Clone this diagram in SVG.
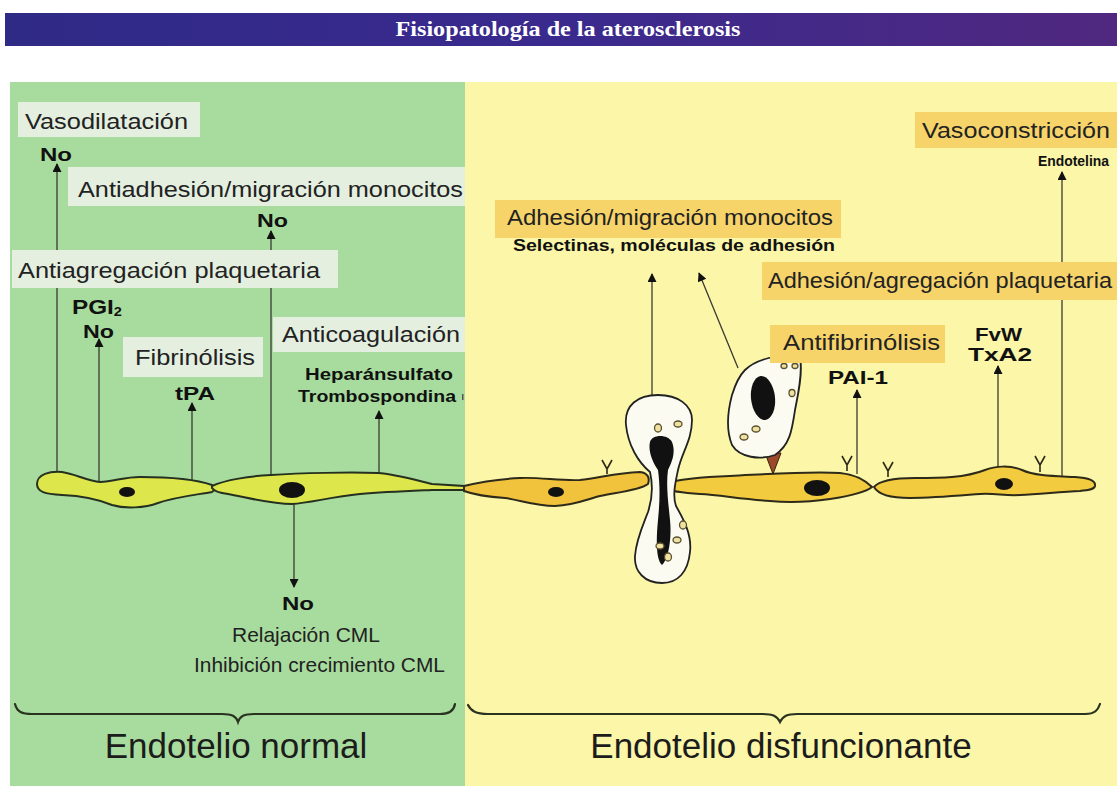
<svg xmlns="http://www.w3.org/2000/svg" width="1117" height="786" viewBox="0 0 1117 786">
  <defs>
    <linearGradient id="bar" x1="0" y1="0" x2="1" y2="0">
      <stop offset="0" stop-color="#2f2a86"/>
      <stop offset="0.5" stop-color="#3a2a8e"/>
      <stop offset="1" stop-color="#50287f"/>
    </linearGradient>
    <marker id="ah" viewBox="0 0 10 10" refX="9" refY="5" markerWidth="11" markerHeight="9" markerUnits="userSpaceOnUse" orient="auto">
      <path d="M0,0 L10,5 L0,10 Z" fill="#111"/>
    </marker>
  </defs>
  <style>
    .lbl { font-family: "Liberation Sans", Arial, sans-serif; font-size: 22px; fill: #222; }
    .big { font-family: "Liberation Sans", Arial, sans-serif; font-size: 35px; fill: #1c1c1c; }
    .bold { font-family: "Liberation Sans", Arial, sans-serif; font-size: 19px; font-weight: bold; fill: #111; }
    .sm { font-family: "Liberation Sans", Arial, sans-serif; font-size: 16px; font-weight: bold; fill: #111; }
    .mid { font-family: "Liberation Sans", Arial, sans-serif; font-size: 21px; fill: #222; }
    .boxg { fill: #e4efe0; }
    .boxy { fill: #f6d46a; }
    .cellg { fill: #dde64a; stroke: #263020; stroke-width: 2; }
    .celly { fill: #f3cb3e; stroke: #2e2a1a; stroke-width: 2; }
    .nuc { fill: #111; }
    .ln { stroke: #3a3a30; stroke-width: 1.3; fill: none; }
    .brace { stroke: #2a3320; stroke-width: 2.2; fill: none; stroke-linecap: round; }
    .gran { fill: #efe2a0; stroke: #5a5030; stroke-width: 1.3; }
    .mono { fill: #fbfbf2; stroke: #222; stroke-width: 1.8; }
    .rec { stroke: #2e2a1a; stroke-width: 1.6; fill: none; }
  </style>

  <rect width="1117" height="786" fill="#ffffff"/>

  <!-- title bar -->
  <g id="title">
    <rect x="5" y="13" width="1112" height="33" fill="url(#bar)"/>
    <text x="568" y="36" text-anchor="middle" font-family="Liberation Serif, serif" font-size="22" font-weight="bold" fill="#ffffff" textLength="345" lengthAdjust="spacingAndGlyphs">Fisiopatología de la aterosclerosis</text>
  </g>

  <!-- panels -->
  <rect id="panel-normal" x="10" y="82" width="455" height="704" fill="#a8dc9e"/>
  <rect id="panel-dys" x="465" y="82" width="652" height="704" fill="#fbf6a8"/>

  <!-- connectors -->
  <g id="connectors">
    <line class="ln" x1="57" y1="472" x2="57" y2="164" marker-end="url(#ah)"/>
    <line class="ln" x1="271" y1="476" x2="271" y2="231" marker-end="url(#ah)"/>
    <line class="ln" x1="99" y1="483" x2="99" y2="339" marker-end="url(#ah)"/>
    <line class="ln" x1="192" y1="481" x2="192" y2="403" marker-end="url(#ah)"/>
    <line class="ln" x1="379" y1="474" x2="379" y2="411" marker-end="url(#ah)"/>
    <line class="ln" x1="294" y1="504" x2="294" y2="587" marker-end="url(#ah)"/>
    <line class="ln" x1="652" y1="405" x2="652" y2="274" marker-end="url(#ah)"/>
    <line class="ln" x1="738" y1="368" x2="699" y2="273" marker-end="url(#ah)"/>
    <line class="ln" x1="857" y1="474" x2="857" y2="390" marker-end="url(#ah)"/>
    <line class="ln" x1="998" y1="468" x2="998" y2="366" marker-end="url(#ah)"/>
    <line class="ln" x1="1062" y1="476" x2="1062" y2="172" marker-end="url(#ah)"/>
  </g>

  <!-- endothelial cells, normal side -->
  <g id="cell-a">
    <path class="cellg" d="M37,484 C37,474 50,471 62,472 C75,474 88,481 100,482 C115,481 125,477 140,477 C165,477 195,479 212,485 C215,488 215,490 212,492 C195,495 175,497 158,503 C145,508 125,509 112,505 C100,500 85,496 62,495 C45,494 37,492 37,484 Z"/>
    <ellipse class="nuc" cx="127" cy="492" rx="8" ry="5"/>
  </g>
  <g id="cell-b">
    <path class="cellg" d="M212,486 C225,480 250,476 271,475 C300,473 350,472 378,473 C395,474 415,480 432,484 L464,486 L464,490 L432,490 C410,491 385,492 360,494 C330,497 310,503 292,504 C270,504 245,497 228,494 C220,493 214,491 212,488 Z"/>
    <ellipse class="nuc" cx="292" cy="490" rx="13" ry="8"/>
  </g>

  <!-- endothelial cells, dysfunctional side -->
  <g id="cell-c">
    <path class="celly" d="M464,486 C480,482 500,479 520,478 C540,477 560,481 580,480 C600,478 615,473 640,472 C648,473 650,478 648,484 C640,490 620,492 600,496 C585,500 575,505 555,506 C535,506 520,500 505,498 C490,497 475,495 464,491 Z" style="fill:#f1c23c"/>
    <ellipse class="nuc" cx="556" cy="492" rx="8" ry="5"/>
  </g>
  <g id="cell-d">
    <path class="celly" d="M662,484 C680,479 700,477 730,476 C770,474 810,471 840,473 C858,475 866,481 872,487 C866,492 850,496 830,499 C810,502 790,503 770,501 C740,499 720,495 700,494 C685,493 670,491 662,488 Z"/>
    <ellipse class="nuc" cx="817" cy="488" rx="13" ry="8"/>
  </g>
  <g id="cell-e">
    <path class="celly" d="M874,487 C880,480 895,478 915,478 C940,478 965,478 985,470 C995,466 1010,465 1022,470 C1035,476 1055,476 1075,477 C1088,478 1096,480 1095,486 C1094,490 1088,490 1080,491 C1060,492 1040,494 1020,495 C1005,496 995,493 980,494 C955,496 935,498 910,498 C890,498 878,494 874,487 Z"/>
    <ellipse class="nuc" cx="1004" cy="484" rx="9" ry="6"/>
  </g>

  <!-- surface receptors -->
  <g id="receptors">
    <path class="rec" d="M602,460 L607,469 L612,460 M607,469 L607,474"/>
    <path class="rec" d="M842,456 L847,465 L852,456 M847,465 L847,471"/>
    <path class="rec" d="M883,462 L888,471 L893,462 M888,471 L888,477"/>
    <path class="rec" d="M1035,456 L1040,465 L1045,456 M1040,465 L1040,472"/>
  </g>

  <!-- monocyte crossing the endothelium -->
  <g id="monocyte-migrating">
    <path class="mono" d="M650,472 C638,462 628,445 626,425 C624,405 638,395 658,395 C678,395 692,405 692,420 C692,440 682,452 678,470 C676,480 672,495 676,506 C684,520 692,535 690,552 C688,572 678,583 662,583 C645,583 634,572 635,556 C636,540 643,525 648,512 C652,500 653,485 650,472 Z"/>
    <path class="nuc" d="M650,442 C652,434 668,434 672,442 C676,452 672,462 668,470 C666,485 668,500 670,520 C672,540 668,560 662,565 C656,560 656,540 658,520 C660,500 660,485 658,470 C652,462 648,450 650,442 Z"/>
    <ellipse class="gran" cx="658" cy="428" rx="3.5" ry="4"/>
    <ellipse class="gran" cx="678" cy="424" rx="4" ry="3"/>
    <ellipse class="gran" cx="683" cy="525" rx="3.5" ry="4"/>
    <ellipse class="gran" cx="677" cy="540" rx="4" ry="3"/>
    <ellipse class="gran" cx="660" cy="546" rx="4" ry="3"/>
    <ellipse class="gran" cx="668" cy="557" rx="3.5" ry="4"/>
  </g>

  <!-- monocyte adhering to the endothelium -->
  <g id="monocyte-adherent">
    <path d="M765,453 L781,453 L773,474 Z" fill="#9a4a2a" stroke="#3a2010" stroke-width="1"/>
    <path class="mono" d="M745,370 C755,360 780,352 800,358 C803,372 798,395 795,410 C792,430 790,445 775,455 C760,460 740,458 732,445 C726,430 728,410 732,395 C736,382 740,375 745,370 Z"/>
    <ellipse class="nuc" cx="763" cy="398" rx="12" ry="22" transform="rotate(-6 763 398)"/>
    <ellipse class="gran" cx="744" cy="437" rx="4" ry="3"/>
    <ellipse class="gran" cx="756" cy="429" rx="4" ry="3"/>
    <ellipse class="gran" cx="792" cy="393" rx="3" ry="3.5"/>
    <ellipse class="gran" cx="784" cy="366" rx="3" ry="2.5"/>
    <ellipse class="gran" cx="795" cy="366" rx="3" ry="2.5"/>
  </g>

  <!-- normal endothelium labels -->
  <g id="vasodilatacion">
    <rect class="boxg" x="18" y="102" width="182" height="35"/>
    <text class="lbl" x="25" y="129" textLength="163" lengthAdjust="spacingAndGlyphs">Vasodilatación</text>
    <text class="bold" x="40" y="161" textLength="32" lengthAdjust="spacingAndGlyphs">No</text>
  </g>
  <g id="antiadhesion">
    <rect class="boxg" x="68" y="167" width="397" height="39"/>
    <text class="lbl" x="78" y="197" textLength="385" lengthAdjust="spacingAndGlyphs">Antiadhesión/migración monocitos</text>
    <text class="bold" x="257" y="227" textLength="31" lengthAdjust="spacingAndGlyphs">No</text>
  </g>
  <g id="antiagregacion">
    <rect class="boxg" x="12" y="250" width="326" height="38"/>
    <text class="lbl" x="18" y="278" textLength="302" lengthAdjust="spacingAndGlyphs">Antiagregación plaquetaria</text>
    <text class="bold" x="72" y="314" style="font-size:20px" textLength="50" lengthAdjust="spacingAndGlyphs">PGI<tspan style="font-size:12px" dy="2">2</tspan></text>
    <text class="bold" x="83" y="338" textLength="31" lengthAdjust="spacingAndGlyphs">No</text>
  </g>
  <g id="fibrinolisis">
    <rect class="boxg" x="123" y="337" width="140" height="40"/>
    <text class="lbl" x="135" y="365" textLength="120" lengthAdjust="spacingAndGlyphs">Fibrinólisis</text>
    <text class="bold" x="175" y="400" textLength="40" lengthAdjust="spacingAndGlyphs">tPA</text>
  </g>
  <g id="anticoagulacion">
    <rect class="boxg" x="273" y="317" width="192" height="35"/>
    <text class="lbl" x="282" y="342" textLength="178" lengthAdjust="spacingAndGlyphs">Anticoagulación</text>
    <text class="sm" x="305" y="380" textLength="148" lengthAdjust="spacingAndGlyphs">Heparánsulfato</text>
    <text class="sm" x="298" y="402" textLength="158" lengthAdjust="spacingAndGlyphs">Trombospondina</text>
    <rect x="462" y="394" width="1.5" height="6" fill="#555"/>
  </g>
  <g id="relajacion">
    <text class="bold" x="298" y="610" text-anchor="middle" textLength="32" lengthAdjust="spacingAndGlyphs">No</text>
    <text class="mid" x="232" y="642" textLength="148" lengthAdjust="spacingAndGlyphs">Relajación CML</text>
    <text class="mid" x="194" y="672" textLength="251" lengthAdjust="spacingAndGlyphs">Inhibición crecimiento CML</text>
  </g>

  <!-- dysfunctional endothelium labels -->
  <g id="adhesion-monocitos">
    <rect class="boxy" x="495" y="200" width="346" height="38"/>
    <text class="lbl" x="507" y="225" textLength="326" lengthAdjust="spacingAndGlyphs">Adhesión/migración monocitos</text>
    <text class="sm" x="513" y="251" textLength="322" lengthAdjust="spacingAndGlyphs">Selectinas, moléculas de adhesión</text>
  </g>
  <g id="vasoconstriccion">
    <rect class="boxy" x="915" y="112" width="202" height="36"/>
    <text class="lbl" x="922" y="138" textLength="188" lengthAdjust="spacingAndGlyphs">Vasoconstricción</text>
    <text class="sm" x="1038" y="166" style="font-size:14px" textLength="71" lengthAdjust="spacingAndGlyphs">Endotelina</text>
  </g>
  <g id="adhesion-plaquetaria">
    <rect class="boxy" x="762" y="262" width="355" height="38"/>
    <text class="lbl" x="768" y="288" textLength="344" lengthAdjust="spacingAndGlyphs">Adhesión/agregación plaquetaria</text>
    <text class="bold" x="975" y="341" style="font-size:18px" textLength="47" lengthAdjust="spacingAndGlyphs">FvW</text>
    <text class="bold" x="968" y="361" style="font-size:18px" textLength="64" lengthAdjust="spacingAndGlyphs">TxA2</text>
  </g>
  <g id="antifibrinolisis">
    <rect class="boxy" x="770" y="325" width="175" height="38"/>
    <text class="lbl" x="783" y="350" textLength="157" lengthAdjust="spacingAndGlyphs">Antifibrinólisis</text>
    <text class="bold" x="828" y="384" textLength="60" lengthAdjust="spacingAndGlyphs">PAI-1</text>
  </g>

  <!-- braces and section names -->
  <g id="section-normal">
    <path class="brace" d="M15,704 C17,712 22,714 32,714 L222,714 C232,714 236,716 238,722 C240,716 244,714 254,714 L440,714 C450,714 454,710 455,704"/>
    <text class="big" x="236" y="758" text-anchor="middle">Endotelio normal</text>
  </g>
  <g id="section-dys">
    <path class="brace" d="M468,705 C471,711 476,714 488,714 L763,714 C773,714 777,716 780,722 C783,716 787,714 797,714 L1085,714 C1095,714 1098,710 1100,704"/>
    <text class="big" x="781" y="758" text-anchor="middle">Endotelio disfuncionante</text>
  </g>
</svg>
